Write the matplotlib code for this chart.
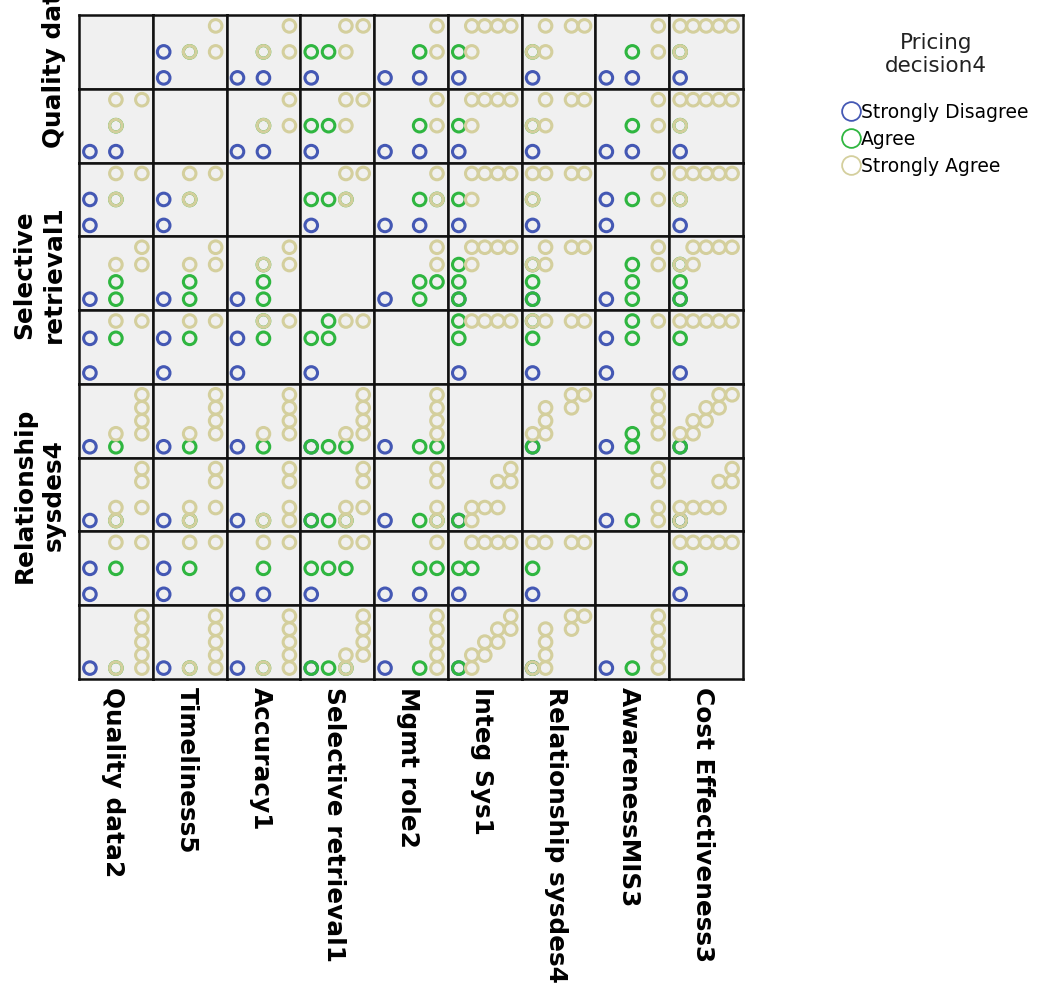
import matplotlib
matplotlib.use('Agg')
import matplotlib.pyplot as plt
from matplotlib.lines import Line2D

# Scatterplot matrix of survey items, coloured by "Pricing decision4"
VARIABLES = ["Quality data2", "Timeliness5", "Accuracy1", "Selective retrieval1",
             "Mgmt role2", "Integ Sys1", "Relationship sysdes4", "AwarenessMIS3",
             "Cost Effectiveness3"]
# observed min / max of each item (sets the cell scale)
VAR_MIN = [3, 3, 3, 2, 2, 1, 1, 3, 1]
VAR_MAX = [5, 5, 5, 5, 5, 5, 5, 5, 5]
# only some row labels survive in the original output
ROW_LABELS = {0: "Quality data2", 3: "Selective\nretrieval1", 6: "Relationship\nsysdes4"}

GROUPS = ["Strongly Disagree", "Agree", "Strongly Agree"]
COLORS = ["#4458b4", "#2fb640", "#d4cf9d"]
LEGEND_TITLE = "Pricing\ndecision4"

# Unique (x value, y value, group) points of the upper triangle.
# Key = column index (x variable), row variable given by the dict name.
# group: 0 = Strongly Disagree, 1 = Agree, 2 = Strongly Agree
PTS_QUALITY = {
    1: [(3, 4, 0), (3, 3, 0), (4, 4, 1), (4, 4, 2), (5, 4, 2), (5, 5, 2)],
    2: [(3, 3, 0), (4, 3, 0), (4, 4, 1), (4, 4, 2), (5, 4, 2), (5, 5, 2)],
    3: [(2, 3, 0), (2, 4, 1), (3, 4, 1), (4, 4, 2), (4, 5, 2), (5, 5, 2)],
    4: [(2, 3, 0), (4, 3, 0), (4, 4, 1), (5, 4, 2), (5, 5, 2)],
    5: [(1, 3, 0), (1, 4, 1), (2, 4, 2), (2, 5, 2), (3, 5, 2), (4, 5, 2), (5, 5, 2)],
    6: [(1, 3, 0), (1, 4, 1), (1, 4, 2), (2, 4, 2), (2, 5, 2), (4, 5, 2), (5, 5, 2)],
    7: [(3, 3, 0), (4, 3, 0), (4, 4, 1), (5, 4, 2), (5, 5, 2)],
    8: [(1, 3, 0), (1, 4, 1), (1, 4, 2), (1, 5, 2), (2, 5, 2), (3, 5, 2), (4, 5, 2), (5, 5, 2)],
}
PTS_TIMELINESS = {
    2: [(3, 3, 0), (4, 3, 0), (4, 4, 1), (4, 4, 2), (5, 4, 2), (5, 5, 2)],
    3: [(2, 3, 0), (2, 4, 1), (3, 4, 1), (4, 4, 2), (4, 5, 2), (5, 5, 2)],
    4: [(2, 3, 0), (4, 3, 0), (4, 4, 1), (5, 4, 2), (5, 5, 2)],
    5: [(1, 3, 0), (1, 4, 1), (2, 4, 2), (2, 5, 2), (3, 5, 2), (4, 5, 2), (5, 5, 2)],
    6: [(1, 3, 0), (1, 4, 1), (1, 4, 2), (2, 4, 2), (2, 5, 2), (4, 5, 2), (5, 5, 2)],
    7: [(3, 3, 0), (4, 3, 0), (4, 4, 1), (5, 4, 2), (5, 5, 2)],
    8: [(1, 3, 0), (1, 4, 1), (1, 4, 2), (1, 5, 2), (2, 5, 2), (3, 5, 2), (4, 5, 2), (5, 5, 2)],
}
PTS_ACCURACY = {
    3: [(2, 3, 0), (2, 4, 1), (3, 4, 1), (4, 4, 1), (4, 4, 2), (4, 5, 2), (5, 5, 2)],
    4: [(2, 3, 0), (4, 3, 0), (4, 4, 1), (5, 4, 1), (5, 4, 2), (5, 5, 2)],
    5: [(1, 3, 0), (1, 4, 1), (2, 4, 2), (2, 5, 2), (3, 5, 2), (4, 5, 2), (5, 5, 2)],
    6: [(1, 3, 0), (1, 4, 1), (1, 4, 2), (1, 5, 2), (2, 5, 2), (4, 5, 2), (5, 5, 2)],
    7: [(3, 3, 0), (3, 4, 0), (4, 4, 1), (5, 4, 2), (5, 5, 2)],
    8: [(1, 3, 0), (1, 4, 1), (1, 4, 2), (1, 5, 2), (2, 5, 2), (3, 5, 2), (4, 5, 2), (5, 5, 2)],
}
PTS_SELECTIVE = {
    4: [(2, 2, 0), (4, 2, 1), (4, 3, 1), (5, 3, 1), (5, 4, 2), (5, 5, 2)],
    5: [(1, 2, 0), (1, 2, 1), (1, 3, 1), (1, 4, 1), (2, 4, 2), (2, 5, 2), (3, 5, 2), (4, 5, 2),
        (5, 5, 2)],
    6: [(1, 2, 0), (1, 2, 1), (1, 3, 1), (1, 4, 1), (1, 4, 2), (2, 4, 2), (2, 5, 2), (4, 5, 2),
        (5, 5, 2)],
    7: [(3, 2, 0), (4, 2, 1), (4, 3, 1), (4, 4, 1), (5, 4, 2), (5, 5, 2)],
    8: [(1, 2, 0), (1, 2, 1), (1, 3, 1), (1, 4, 1), (1, 4, 2), (2, 4, 2), (2, 5, 2), (3, 5, 2),
        (4, 5, 2), (5, 5, 2)],
}
PTS_MGMT = {
    5: [(1, 2, 0), (1, 4, 1), (1, 5, 1), (2, 5, 2), (3, 5, 2), (4, 5, 2), (5, 5, 2)],
    6: [(1, 2, 0), (1, 4, 1), (1, 5, 1), (1, 5, 2), (2, 5, 2), (4, 5, 2), (5, 5, 2)],
    7: [(3, 2, 0), (3, 4, 0), (4, 4, 1), (4, 5, 1), (5, 5, 2)],
    8: [(1, 2, 0), (1, 4, 1), (1, 5, 2), (2, 5, 2), (3, 5, 2), (4, 5, 2), (5, 5, 2)],
}
PTS_INTEG = {
    6: [(1, 1, 0), (1, 1, 1), (1, 2, 2), (2, 2, 2), (2, 3, 2), (2, 4, 2), (4, 4, 2), (4, 5, 2),
        (5, 5, 2)],
    7: [(3, 1, 0), (4, 1, 1), (4, 2, 1), (5, 2, 2), (5, 3, 2), (5, 4, 2), (5, 5, 2)],
    8: [(1, 1, 0), (1, 1, 1), (1, 2, 2), (2, 2, 2), (2, 3, 2), (3, 3, 2), (3, 4, 2), (4, 4, 2),
        (4, 5, 2), (5, 5, 2)],
}
PTS_RELATION = {
    7: [(3, 1, 0), (4, 1, 1), (5, 1, 2), (5, 2, 2), (5, 4, 2), (5, 5, 2)],
    8: [(1, 1, 0), (1, 1, 1), (1, 1, 2), (1, 2, 2), (2, 2, 2), (3, 2, 2), (4, 2, 2), (4, 4, 2),
        (5, 4, 2), (5, 5, 2)],
}
PTS_AWARENESS = {
    8: [(1, 3, 0), (1, 4, 1), (1, 5, 2), (2, 5, 2), (3, 5, 2), (4, 5, 2), (5, 5, 2)],
}
UPPER = [PTS_QUALITY, PTS_TIMELINESS, PTS_ACCURACY, PTS_SELECTIVE, PTS_MGMT,
         PTS_INTEG, PTS_RELATION, PTS_AWARENESS, {}]

W, H = 1040, 987
GRID_L, GRID_R, GRID_T, GRID_B = 79, 743, 16, 680

fig = plt.figure(figsize=(W / 100, H / 100), dpi=100)
n = len(VARIABLES)
cw = (GRID_R - GRID_L) / n
ch = (GRID_B - GRID_T) / n


def lims(i):
    lo, hi = VAR_MIN[i], VAR_MAX[i]
    pad = 0.21 * (hi - lo)
    return lo - pad, hi + pad


for r in range(n):
    for c in range(n):
        x0 = GRID_L + c * cw
        y0 = GRID_T + (r + 1) * ch
        ax = fig.add_axes([x0 / W, 1 - y0 / H, cw / W, ch / H])
        ax.set_facecolor('#f0f0f0')
        ax.set_xlim(*lims(c))
        ax.set_ylim(*lims(r))
        ax.set_xticks([])
        ax.set_yticks([])
        for sp in ax.spines.values():
            sp.set_linewidth(1.8)
            sp.set_color('#111111')
        if r < c:
            pts = UPPER[r][c]
        elif r > c:
            pts = [(y, x, g) for (x, y, g) in UPPER[c][r]]
        else:
            pts = []
        for g in range(len(GROUPS)):
            xs = [p[0] for p in pts if p[2] == g]
            ys = [p[1] for p in pts if p[2] == g]
            if xs:
                ax.scatter(xs, ys, s=82, facecolors='none', edgecolors=COLORS[g],
                           linewidths=2.2, zorder=3 + g)

# column labels below the grid
for c, name in enumerate(VARIABLES):
    xc = GRID_L + (c + 0.5) * cw - 3
    fig.text(xc / W, 1 - (GRID_B + 7) / H, name, rotation=270, ha='center', va='top',
             fontsize=17.8, fontweight='bold')

# row labels on the left (the first one runs off the top, as in the original)
for r, name in ROW_LABELS.items():
    yc = GRID_T + (r + 0.5) * ch
    fig.text(66 / W, 1 - yc / H, name, rotation=90, ha='right', va='center',
             fontsize=17.8, fontweight='bold', multialignment='center', linespacing=1.3)

# legend: title drawn separately so the gap to the entries matches
fig.text(936 / W, 1 - 33 / H, LEGEND_TITLE, ha='center', va='top', fontsize=15.5,
         color='#222222', multialignment='center', linespacing=1.2)
handles = [Line2D([], [], marker='o', linestyle='none', markersize=13.5,
                  markerfacecolor='none', markeredgecolor=col, markeredgewidth=1.3)
           for col in COLORS]
fig.legend(handles, GROUPS, loc='upper left', bbox_to_anchor=(832 / W, 1 - 94 / H),
           frameon=False, fontsize=13.5, handletextpad=0.05, labelspacing=0.42,
           borderpad=0, handlelength=1.0)

fig.savefig('out.png', dpi=100)
